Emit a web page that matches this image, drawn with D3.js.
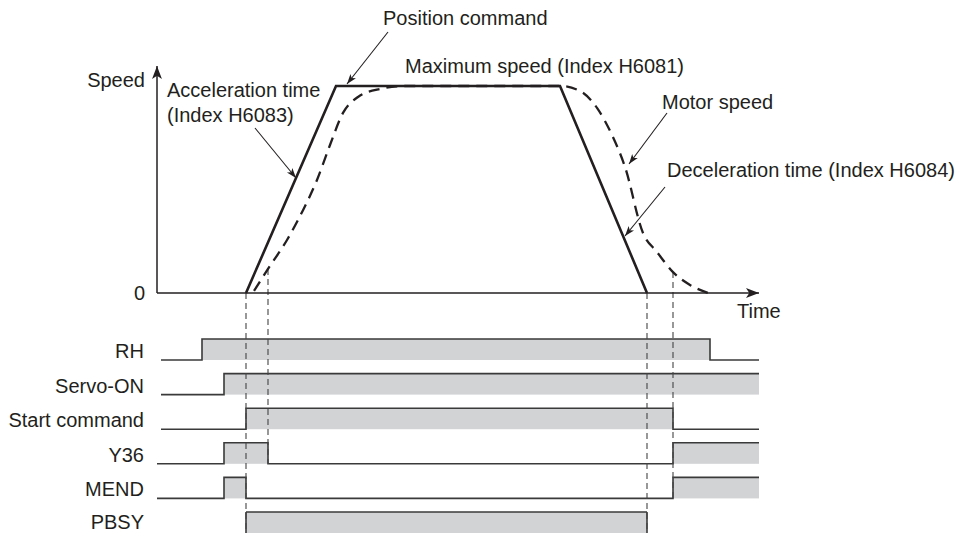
<!DOCTYPE html>
<html>
<head>
<meta charset="utf-8">
<script src="https://cdn.jsdelivr.net/npm/d3@7"></script>
<style>
  body { margin: 0; background: #fff; }
  svg text { font-family: "Liberation Sans", Arial, sans-serif; font-size: 20px; fill: #231f20; }
</style>
</head>
<body>
<svg id="chart"></svg>
<script>
// ---- data (time in arbitrary units, speed in % of maximum) ----
const commandTime  = [89, 179, 403, 490];
const commandSpeed = [0, 100, 100, 0];

const motorTime  = [97, 111, 130, 146, 160, 173, 186, 201, 223, 248, 403, 423, 440, 455, 468, 486, 500, 516, 533, 551];
const motorSpeed = [1, 11.6, 25.6, 40, 54.6, 71.5, 87, 94.7, 98.6, 100, 100, 97.6, 89.4, 76.3, 60.9, 29, 19.8, 10.1, 3.9, 0];

// guide lines: event time, speed where guide starts, row index where it ends
const guideTime  = [89, 111, 490, 516];
const guideSpeed = [0, 11.6, 0, 10.1];
const guideEnd   = [5, 3, 5, 4];

// timing signals: start level and toggle times
const signalNames = ['RH', 'Servo-ON', 'Start command', 'Y36', 'MEND', 'PBSY'];
const signalStart = [4, 4, 4, 0, 0, 0];
const signalInit  = [0, 0, 0, 0, 0, 0];
const signalEdges = [[45, 553], [67], [89, 516], [67, 111, 516], [67, 89, 516], [89, 490]];
const signalEnd = 602;

// ---- layout ----
const width = 956, height = 533;
const svg = d3.select('#chart').attr('width', width).attr('height', height);

const x = d3.scaleLinear().domain([0, 600]).range([157, 757]);
const y = d3.scaleLinear().domain([0, 100]).range([293, 86]);

const rowTop = 339, rowStep = 34.6, rowH = 21;
const rowHigh = i => rowTop + i * rowStep;
const rowLow = i => rowTop + i * rowStep + rowH;
const lastRow = signalNames.length - 1;

const ink = '#231f20';

// arrow markers
const defs = svg.append('defs');
defs.append('marker')
  .attr('id', 'tip').attr('viewBox', '0 0 10 10').attr('refX', 10).attr('refY', 5)
  .attr('markerWidth', 10).attr('markerHeight', 10).attr('markerUnits', 'userSpaceOnUse')
  .attr('orient', 'auto')
  .append('path').attr('d', 'M0,1.5L10,5L0,8.5L2.5,5Z').attr('fill', ink);
defs.append('marker')
  .attr('id', 'axisTip').attr('viewBox', '0 0 10 10').attr('refX', 10).attr('refY', 5)
  .attr('markerWidth', 13).attr('markerHeight', 13).attr('markerUnits', 'userSpaceOnUse')
  .attr('orient', 'auto')
  .append('path').attr('d', 'M0,1.2L10,5L0,8.8L2.5,5Z').attr('fill', ink);

// ---- timing rows ----
const rows = svg.append('g');
signalNames.forEach((name, i) => {
  const stops = [signalStart[i], ...signalEdges[i], signalEnd];
  let level = signalInit[i];
  const pts = [];
  for (let k = 0; k < stops.length - 1; k++) {
    // the bottom row's low level sits on the picture edge: leave it out
    const show = level || i !== lastRow;
    const yy = level ? rowHigh(i) : rowLow(i);
    if (level) {
      rows.append('rect')
        .attr('x', x(stops[k])).attr('y', rowHigh(i))
        .attr('width', x(stops[k + 1]) - x(stops[k])).attr('height', rowH)
        .attr('fill', '#d1d3d4');
    }
    if (show) {
      pts.push([x(stops[k]), yy, true], [x(stops[k + 1]), yy, true]);
    } else {
      pts.push([x(stops[k + 1]), yy, false]);
    }
    level = 1 - level;
  }
  rows.append('path')
    .attr('d', d3.line().defined(d => d[2])(pts))
    .attr('fill', 'none').attr('stroke', '#3a3a3a').attr('stroke-width', 1.6);
  rows.append('text')
    .attr('x', 144).attr('y', i === lastRow ? rowLow(i) - 4 : rowLow(i) - 2)
    .attr('text-anchor', 'end')
    .text(name);
});

// vertical edges for the bottom row where its low level is hidden
signalEdges[lastRow].forEach(t => {
  rows.append('line')
    .attr('x1', x(t)).attr('x2', x(t))
    .attr('y1', rowHigh(lastRow)).attr('y2', height)
    .attr('stroke', '#3a3a3a').attr('stroke-width', 1.6);
});

// ---- guides ----
svg.append('g').selectAll('line')
  .data(guideTime)
  .join('line')
  .attr('x1', d => x(d)).attr('x2', d => x(d))
  .attr('y1', (d, i) => y(guideSpeed[i]))
  .attr('y2', (d, i) => guideEnd[i] === lastRow ? height : rowLow(guideEnd[i]))
  .attr('stroke', '#444').attr('stroke-width', 1.1)
  .attr('stroke-dasharray', '6,4');

// ---- axes ----
svg.append('line')
  .attr('x1', x(0)).attr('y1', y(0)).attr('x2', x(0)).attr('y2', 66)
  .attr('stroke', ink).attr('stroke-width', 1.5).attr('marker-end', 'url(#axisTip)');
svg.append('line')
  .attr('x1', x(0)).attr('y1', y(0)).attr('x2', 759).attr('y2', y(0))
  .attr('stroke', ink).attr('stroke-width', 1.5).attr('marker-end', 'url(#axisTip)');

svg.append('text').attr('x', 145).attr('y', 87).attr('text-anchor', 'end').text('Speed');
svg.append('text').attr('x', 145).attr('y', 300).attr('text-anchor', 'end').text('0');
svg.append('text').attr('x', 737).attr('y', 318).text('Time');

// ---- speed curves ----
svg.append('path')
  .datum(d3.zip(motorTime, motorSpeed))
  .attr('d', d3.line().x(d => x(d[0])).y(d => y(d[1])).curve(d3.curveMonotoneX))
  .attr('fill', 'none').attr('stroke', ink).attr('stroke-width', 2.3)
  .attr('stroke-dasharray', '11,7');

svg.append('path')
  .datum(d3.zip(commandTime, commandSpeed))
  .attr('d', d3.line().x(d => x(d[0])).y(d => y(d[1])))
  .attr('fill', 'none').attr('stroke', ink).attr('stroke-width', 2.6)
  .attr('stroke-linejoin', 'miter');

// ---- annotations ----
const notes = svg.append('g');
const arrow = (x1, y1, x2, y2) => notes.append('line')
  .attr('x1', x1).attr('y1', y1).attr('x2', x2).attr('y2', y2)
  .attr('stroke', ink).attr('stroke-width', 1.1).attr('marker-end', 'url(#tip)');

notes.append('text').attr('x', 383).attr('y', 25).text('Position command');
arrow(388, 32, 347, 84);

notes.append('text').attr('x', 405).attr('y', 73).text('Maximum speed (Index H6081)');

notes.append('text').attr('x', 167).attr('y', 97).text('Acceleration time');
notes.append('text').attr('x', 167).attr('y', 122).text('(Index H6083)');
arrow(255, 128, 296, 178);

notes.append('text').attr('x', 662).attr('y', 109).text('Motor speed');
arrow(667, 113, 629, 164);

notes.append('text').attr('x', 667).attr('y', 177).text('Deceleration time (Index H6084)');
arrow(665, 187, 625, 236);
</script>
</body>
</html>
